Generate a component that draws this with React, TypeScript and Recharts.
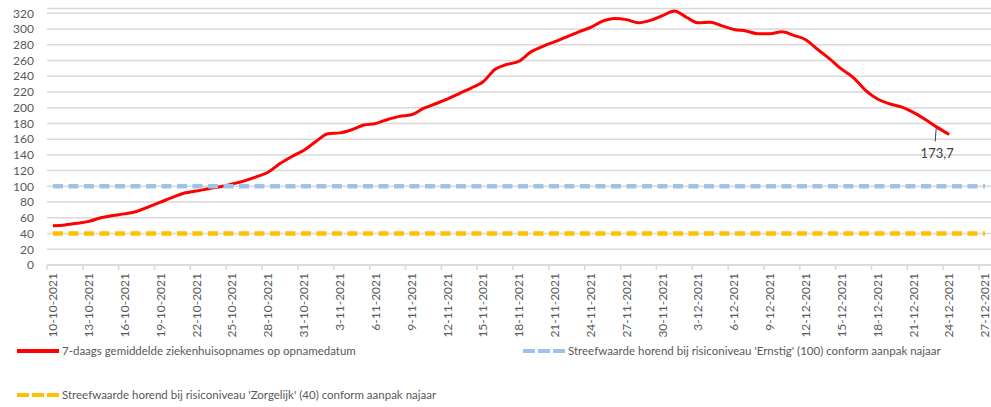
import { LineChart, Line, XAxis, YAxis, CartesianGrid, LabelList } from "recharts";

const dates = [
  "10-10-2021", "11-10-2021", "12-10-2021", "13-10-2021", "14-10-2021", "15-10-2021", "16-10-2021",
  "17-10-2021", "18-10-2021", "19-10-2021", "20-10-2021", "21-10-2021", "22-10-2021", "23-10-2021",
  "24-10-2021", "25-10-2021", "26-10-2021", "27-10-2021", "28-10-2021", "29-10-2021", "30-10-2021",
  "31-10-2021", "1-11-2021", "2-11-2021", "3-11-2021", "4-11-2021", "5-11-2021", "6-11-2021",
  "7-11-2021", "8-11-2021", "9-11-2021", "10-11-2021", "11-11-2021", "12-11-2021", "13-11-2021",
  "14-11-2021", "15-11-2021", "16-11-2021", "17-11-2021", "18-11-2021", "19-11-2021", "20-11-2021",
  "21-11-2021", "22-11-2021", "23-11-2021", "24-11-2021", "25-11-2021", "26-11-2021", "27-11-2021",
  "28-11-2021", "29-11-2021", "30-11-2021", "1-12-2021", "2-12-2021", "3-12-2021", "4-12-2021",
  "5-12-2021", "6-12-2021", "7-12-2021", "8-12-2021", "9-12-2021", "10-12-2021", "11-12-2021",
  "12-12-2021", "13-12-2021", "14-12-2021", "15-12-2021", "16-12-2021", "17-12-2021", "18-12-2021",
  "19-12-2021", "20-12-2021", "21-12-2021", "22-12-2021", "23-12-2021", "24-12-2021", "25-12-2021",
  "26-12-2021", "27-12-2021",
];

// 7-daags gemiddelde, 10-10 t/m 24-12
const admissions = [
  50, 51, 53, 55.5, 60, 63, 65, 68, 74, 80,
  86, 91.5, 94, 97, 99.5, 103, 107, 112, 118, 129,
  138, 146, 157, 167, 168, 172, 178, 180, 185, 189,
  191, 199, 205, 211, 218, 225, 233, 249, 255, 259,
  271, 278, 284, 290, 296.5, 302, 310, 313.5, 312, 308,
  311, 317, 323, 315, 308, 308.5, 304, 299.5, 297.5, 294,
  294, 296.5, 292, 286.5, 274, 262, 249, 238, 222, 211,
  205, 201, 194, 185, 175, 166,
];

const ernstigTarget = 100;
const zorgelijkTarget = 40;
const yTicks = [0, 20, 40, 60, 80, 100, 120, 140, 160, 180, 200, 220, 240, 260, 280, 300, 320];
const lastLabel = "173,7";

const seriesNames = [
  "7-daags gemiddelde ziekenhuisopnames op opnamedatum",
  "Streefwaarde horend bij risiconiveau 'Ernstig' (100) conform aanpak najaar",
  "Streefwaarde horend bij risiconiveau 'Zorgelijk' (40) conform aanpak najaar",
];

const data = dates.map((date, i) => ({
  date,
  admissions: i < admissions.length ? admissions[i] : null,
  ernstig: ernstigTarget,
  zorgelijk: zorgelijkTarget,
}));

const FONT = "Lato, 'Open Sans', sans-serif";
const TEXT = "#595959";
const GRID = "#d9d9d9";
const RED = "#ff0000";
const BLUE = "#9dc3e6";
const YELLOW = "#ffc000";

const W = 991;
const H = 407;
const PLOT_LEFT = 47;
const HALF_BAND = (W - PLOT_LEFT) / dates.length / 2;

function DateTick({ x, y, payload }: any) {
  return (
    <g>
      <line x1={x - HALF_BAND} x2={x - HALF_BAND} y1={y - 8} y2={y - 3} stroke={GRID} strokeWidth={1.5} />
      <text
        transform={`translate(${x},${y}) rotate(-90)`}
        textAnchor="end"
        dy="0.35em"
        fontSize={12}
        fontFamily={FONT}
        fill={TEXT}
      >
        {payload.value}
      </text>
    </g>
  );
}

function LastValueLabel(props: any) {
  const { x, y, index, value } = props;
  const isLast = index != null ? index === admissions.length - 1 : value === admissions[admissions.length - 1];
  if (!isLast || x == null) return null;
  return (
    <g>
      <line x1={x - 13} y1={y - 6} x2={x - 14} y2={y + 7} stroke="#404040" strokeWidth={1} />
      <text x={x - 12} y={y + 24} textAnchor="middle" fontSize={13} fontFamily={FONT} fill="#404040">
        {lastLabel}
      </text>
    </g>
  );
}

function LegendSwatch({ color, dashed }: { color: string; dashed?: boolean }) {
  return (
    <svg width={42} height={6} style={{ display: "block" }}>
      <line
        x1={0}
        x2={42}
        y1={3}
        y2={3}
        stroke={color}
        strokeWidth={4}
        strokeDasharray={dashed ? "12 3" : undefined}
      />
    </svg>
  );
}

function LegendItem({ left, top, color, dashed, label }: any) {
  return (
    <div
      style={{
        position: "absolute",
        left,
        top,
        display: "flex",
        alignItems: "center",
        gap: 3,
        fontFamily: FONT,
        fontSize: 11.5,
        color: TEXT,
        whiteSpace: "nowrap",
      }}
    >
      <LegendSwatch color={color} dashed={dashed} />
      <span>{label}</span>
    </div>
  );
}

export default function App() {
  return (
    <div style={{ position: "absolute", left: 0, top: 0, width: W, height: H, background: "#fff" }}>
      <LineChart width={W} height={H} data={data} margin={{ top: 8.6, right: 0, bottom: 62, left: 0 }}>
        <CartesianGrid vertical={false} stroke={GRID} strokeWidth={1.5} />
        <XAxis
          dataKey="date"
          scale="band"
          interval={2}
          height={80}
          tick={<DateTick />}
          tickLine={false}
          tickSize={5}
          tickMargin={3}
          axisLine={{ stroke: GRID, strokeWidth: 1.5 }}
        />
        <YAxis
          width={PLOT_LEFT}
          domain={[0, 326]}
          ticks={yTicks}
          interval={0}
          axisLine={false}
          tickLine={false}
          tickSize={6}
          tickMargin={7}
          tick={{ fontSize: 12, fontFamily: FONT, fill: TEXT }}
        />
        <Line
          dataKey="admissions"
          name={seriesNames[0]}
          stroke={RED}
          strokeWidth={3}
          dot={false}
          type="monotone"
          isAnimationActive={false}
        >
          <LabelList dataKey="admissions" content={<LastValueLabel />} />
        </Line>
        <Line
          dataKey="ernstig"
          name={seriesNames[1]}
          stroke={BLUE}
          strokeWidth={4.5}
          strokeDasharray="10 5.5"
          dot={false}
          isAnimationActive={false}
        />
        <Line
          dataKey="zorgelijk"
          name={seriesNames[2]}
          stroke={YELLOW}
          strokeWidth={4.5}
          strokeDasharray="10 5.5"
          dot={false}
          isAnimationActive={false}
        />
      </LineChart>
      <LegendItem left={17} top={344} color={RED} label={seriesNames[0]} />
      <LegendItem left={523} top={344} color={BLUE} dashed label={seriesNames[1]} />
      <LegendItem left={17} top={388} color={YELLOW} dashed label={seriesNames[2]} />
    </div>
  );
}
